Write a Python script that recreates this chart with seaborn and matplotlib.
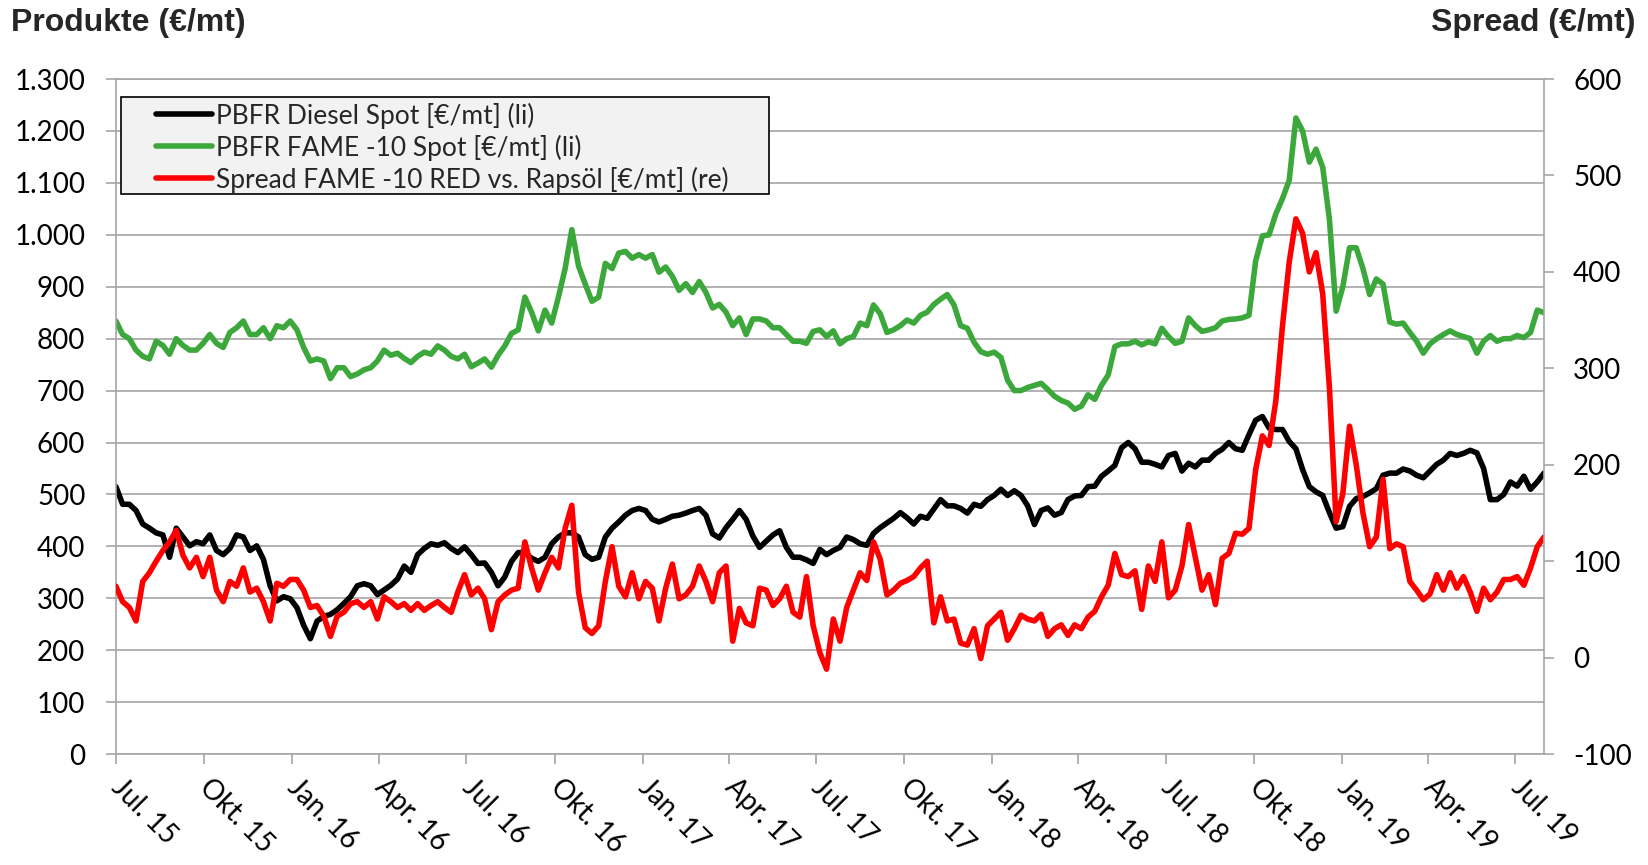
import matplotlib
matplotlib.use('Agg')
import matplotlib.pyplot as plt
from matplotlib.lines import Line2D
from matplotlib.patches import Rectangle
from matplotlib.ticker import FuncFormatter
import seaborn as sns
import pandas as pd

# weekly readings, starting 1 Jul 2015
start_date = '2015-07-01'
step = '7D'

diesel = [
    515, 481, 481, 469, 443, 435, 426, 422, 379, 435, 418, 401, 409, 405, 422, 392, 384, 396, 422, 418,
    392, 401, 375, 324, 295, 303, 299, 282, 248, 222, 256, 265, 269, 278, 290, 303, 324, 328, 324, 307,
    316, 325, 337, 362, 350, 384, 396, 405, 402, 407, 396, 388, 399, 384, 367, 368, 350, 324, 341, 371,
    388, 388, 377, 371, 379, 405, 418, 426, 426, 418, 384, 375, 379, 418, 435, 447, 460, 469, 473, 469,
    452, 447, 452, 458, 460, 464, 469, 473, 460, 424, 416, 436, 452, 469, 452, 420, 398, 410, 422, 430,
    398, 379, 379, 374, 367, 394, 384, 392, 398, 418, 413, 405, 402, 425, 436, 445, 454, 465, 455, 443,
    458, 454, 472, 490, 478, 478, 473, 464, 481, 477, 490, 498, 510, 498, 507, 498, 478, 442, 469, 474,
    460, 465, 490, 497, 498, 515, 516, 535, 545, 556, 590, 600, 588, 562, 562, 558, 553, 575, 579, 545,
    560, 553, 566, 566, 579, 587, 600, 588, 585, 615, 643, 650, 628, 625, 625, 602, 588, 548, 515, 505,
    498, 465, 435, 438, 477, 492, 496, 503, 511, 537, 541, 541, 549, 545, 537, 532, 545, 558, 566, 579,
    575, 579, 585, 580, 550, 490, 490, 500, 524, 516, 535, 510, 524, 541]

fame = [
    834, 808, 800, 778, 766, 761, 795, 787, 770, 800, 787, 778, 778, 791, 808, 791, 783, 812, 821, 834,
    808, 808, 821, 800, 825, 821, 834, 817, 783, 757, 761, 757, 723, 744, 744, 727, 732, 740, 744, 757,
    778, 768, 772, 762, 754, 766, 774, 770, 786, 778, 766, 761, 770, 746, 753, 761, 745, 768, 786, 810,
    817, 880, 851, 815, 855, 830, 880, 935, 1010, 940, 905, 872, 880, 945, 935, 965, 968, 955, 962, 955,
    962, 928, 938, 920, 893, 906, 889, 910, 889, 859, 866, 851, 825, 840, 808, 838, 838, 834, 821, 821,
    808, 795, 795, 791, 814, 817, 804, 815, 790, 800, 804, 830, 825, 865, 848, 812, 817, 825, 836, 830,
    845, 851, 866, 876, 885, 865, 825, 820, 793, 775, 770, 774, 764, 720, 700, 700, 706, 710, 714, 702,
    689, 681, 676, 664, 670, 692, 683, 710, 730, 785, 790, 790, 795, 788, 794, 790, 820, 804, 791, 795,
    840, 825, 814, 817, 821, 834, 837, 838, 840, 845, 950, 998, 1000, 1040, 1070, 1105, 1225, 1200, 1140, 1165,
    1130, 1030, 853, 900, 975, 975, 935, 885, 915, 905, 832, 828, 830, 812, 795, 772, 790, 800, 808, 815,
    808, 804, 800, 772, 795, 806, 795, 800, 800, 806, 802, 812, 855, 850]

spread = [
    74, 58, 52, 38, 79, 88, 100, 111, 120, 132, 106, 93, 104, 84, 104, 70, 58, 79, 74, 93,
    68, 72, 58, 38, 77, 74, 81, 81, 70, 52, 54, 43, 22, 43, 47, 56, 58, 52, 58, 40,
    63, 58, 52, 56, 49, 56, 49, 54, 58, 52, 47, 68, 86, 65, 72, 61, 29, 58, 65, 70,
    72, 120, 93, 70, 88, 104, 93, 134, 158, 68, 31, 25, 33, 79, 115, 74, 63, 88, 61, 79,
    72, 38, 72, 97, 61, 65, 74, 95, 79, 58, 88, 95, 17, 51, 36, 33, 72, 70, 54, 61,
    74, 47, 42, 84, 33, 5, -12, 40, 17, 52, 70, 88, 80, 120, 102, 65, 70, 77, 80, 84,
    93, 100, 36, 63, 38, 40, 15, 13, 30, -1, 33, 40, 47, 18, 30, 44, 40, 38, 45, 22,
    30, 34, 23, 34, 30, 42, 48, 63, 75, 108, 86, 84, 90, 50, 95, 79, 120, 62, 70, 95,
    138, 104, 70, 86, 55, 103, 108, 129, 128, 134, 195, 230, 220, 266, 344, 410, 455, 440, 400, 420,
    377, 280, 141, 170, 240, 200, 150, 115, 125, 185, 113, 118, 115, 79, 70, 60, 66, 86, 70, 88,
    72, 84, 68, 48, 72, 60, 68, 81, 81, 84, 75, 93, 115, 125]

labels = ['PBFR Diesel Spot [€/mt] (li)',
          'PBFR FAME -10 Spot [€/mt] (li)',
          'Spread FAME -10 RED vs. Rapsöl [€/mt] (re)']

tick_labels = ['Jul. 15', 'Okt. 15', 'Jan. 16', 'Apr. 16', 'Jul. 16', 'Okt. 16',
               'Jan. 17', 'Apr. 17', 'Jul. 17', 'Okt. 17', 'Jan. 18', 'Apr. 18',
               'Jul. 18', 'Okt. 18', 'Jan. 19', 'Apr. 19', 'Jul. 19']

dates = pd.date_range(start_date, periods=len(diesel), freq=step)
df = pd.DataFrame({'date': dates, 'diesel': diesel, 'fame': fame, 'spread': spread})

sns.set_theme(style='white')
plt.rcParams['font.family'] = ['Lato', 'DejaVu Sans']

GRAY = '#A6A6A6'
GREEN = '#3CA83C'
RED = '#FF0000'
LW = 4.0

fig = plt.figure(figsize=(16.49, 8.65), dpi=100)
ax = fig.add_axes([0.0703, 0.1283, 0.866, 0.7803])
ax2 = ax.twinx()

sns.lineplot(data=df, x='date', y='diesel', ax=ax, color='black', linewidth=LW)
sns.lineplot(data=df, x='date', y='fame', ax=ax, color=GREEN, linewidth=LW)
sns.lineplot(data=df, x='date', y='spread', ax=ax2, color=RED, linewidth=LW)

ax.set_xlim(pd.Timestamp('2015-07-01'), pd.Timestamp('2019-07-31'))
ax.set_ylim(0, 1300)
ax.set_yticks(range(0, 1301, 100))
ax.yaxis.set_major_formatter(FuncFormatter(lambda v, p: f'{v:,.0f}'.replace(',', '.')))
ax2.set_ylim(-100, 600)
ax2.set_yticks(range(-100, 601, 100))
ax2.yaxis.set_major_formatter(FuncFormatter(lambda v, p: f'{int(v)}'))

tick_dates = pd.date_range('2015-07-01', '2019-07-01', freq='QS')
ax.set_xticks(tick_dates)
ax.set_xticklabels(tick_labels, rotation=-45, ha='left', va='center', rotation_mode='anchor')

for a in (ax, ax2):
    a.set_xlabel('')
    a.set_ylabel('')

ax.yaxis.grid(True, color=GRAY, linewidth=1.2)
ax.set_axisbelow(True)

for s in ['left', 'bottom', 'top']:
    ax.spines[s].set_color(GRAY)
    ax.spines[s].set_linewidth(1.2)
ax.spines['right'].set_visible(False)
for s in ['left', 'bottom', 'top']:
    ax2.spines[s].set_visible(False)
ax2.spines['right'].set_color(GRAY)
ax2.spines['right'].set_linewidth(1.2)

ax.tick_params(axis='x', bottom=True, length=7, width=1.2, color=GRAY, pad=14,
               labelsize=20, labelcolor='black')
ax.tick_params(axis='y', left=True, length=7, width=1.2, color=GRAY, pad=15,
               labelsize=20, labelcolor='black')
ax2.tick_params(axis='y', right=True, length=7, width=1.2, color=GRAY, pad=14,
                labelsize=20, labelcolor='black')

# legend box
box = Rectangle((0.0035, 0.8296), 0.4538, 0.1437, transform=ax2.transAxes,
                facecolor='#F2F2F2', edgecolor='black', linewidth=1.2, zorder=5)
ax2.add_patch(box)
handles = [Line2D([], [], color=c, linewidth=LW) for c in ('black', GREEN, RED)]
leg = ax2.legend(handles, labels, loc='upper left', bbox_to_anchor=(0.026, 0.969),
                 frameon=False, prop={'family': 'Lato', 'size': 19}, handlelength=2.15,
                 handletextpad=0.12, labelspacing=0.22, borderpad=0.1, borderaxespad=0)
leg.set_zorder(6)

fig.text(0.0064, 0.973, 'Produkte (€/mt)', fontsize=23, fontweight='bold',
         family='Liberation Sans', ha='left', va='center')
fig.text(0.9918, 0.973, 'Spread (€/mt)', fontsize=23, fontweight='bold',
         family='Liberation Sans', ha='right', va='center')

fig.savefig('out.png', dpi=100)
